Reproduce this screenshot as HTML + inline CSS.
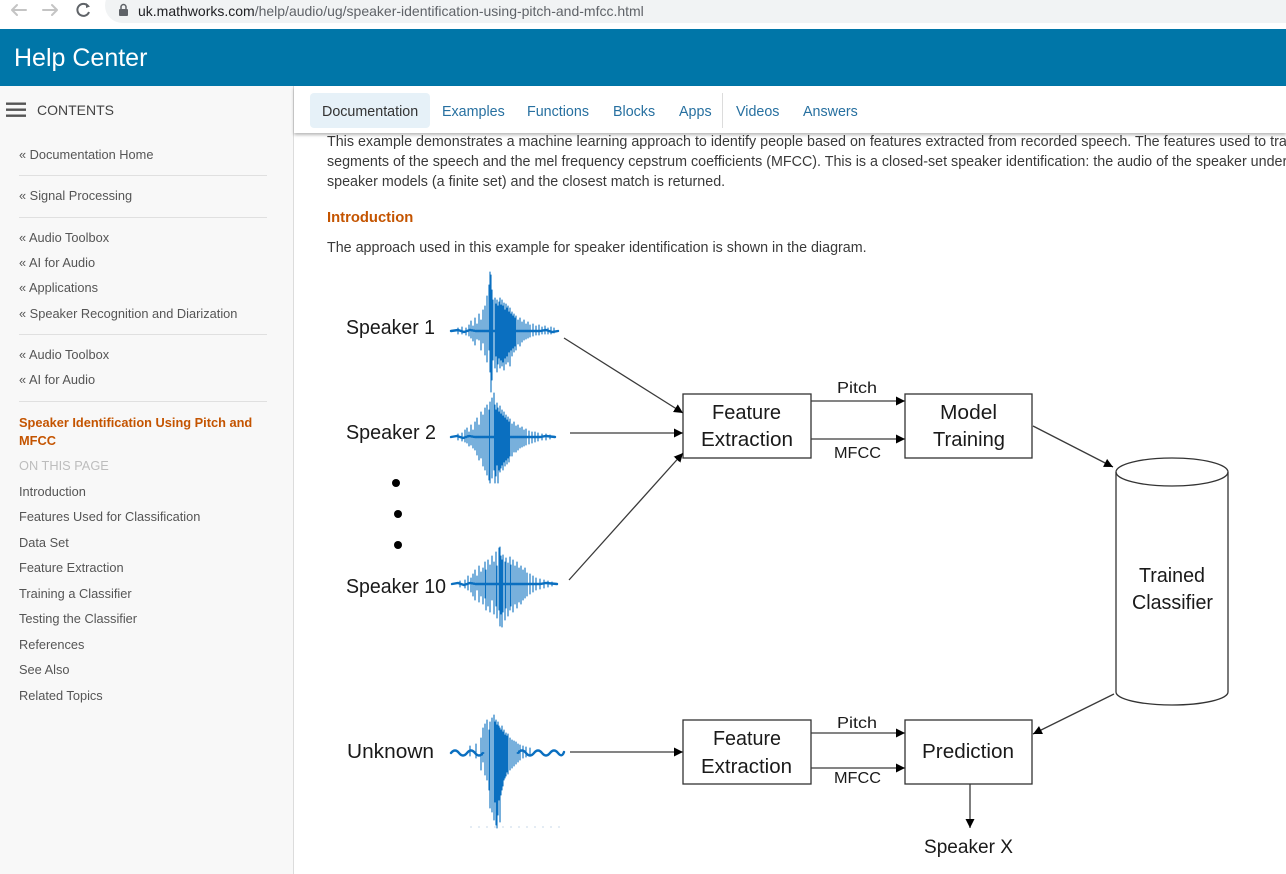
<!DOCTYPE html>
<html><head><meta charset="utf-8">
<style>
*{margin:0;padding:0;box-sizing:border-box}
html,body{width:1286px;height:874px;overflow:hidden;background:#fff;font-family:"Liberation Sans",Arial,sans-serif}
.abs{position:absolute;white-space:nowrap}
#pill{position:absolute;left:105px;top:-12px;width:1200px;height:35px;background:#f1f3f4;border-radius:18px}
#hdr{position:absolute;left:0;top:29px;width:1286px;height:57px;background:#0076a8}
#side{position:absolute;left:0;top:86px;width:294px;height:788px;background:#f8f8f8;border-right:1px solid #dcdcdc}
.sl{position:absolute;left:19px;font-size:12.8px;color:#555;line-height:16px;white-space:nowrap;margin-top:1px}
.sep{position:absolute;left:19px;width:248px;height:1px;background:#e0e0e0}
#tabs{position:absolute;left:294px;top:86px;width:992px;height:47px;background:#fff;box-shadow:0 2px 3px rgba(0,0,0,0.28);z-index:3}
.tab{position:absolute;top:17px;font-size:14.3px;color:#2770a0;line-height:18px;white-space:nowrap}
.txt{position:absolute;left:327px;font-size:14.3px;color:#3a3a3a;line-height:18px;white-space:nowrap;margin-top:1px}
</style></head><body>
<!-- browser bar -->
<div id="pill"></div>
<svg class="abs" style="left:0;top:0" width="140" height="24">
 <g stroke="#c4c4c4" stroke-width="2" fill="none" stroke-linecap="round">
  <path d="M12 10H26M12 10L17 5M12 10L17 15"/>
  <path d="M43 10H57M57 10L52 5M57 10L52 15"/>
 </g>
 <path d="M88 6A6 6 0 1 0 89 12" stroke="#5f6368" stroke-width="2" fill="none"/>
 <path d="M86 3L90 6.5L86 8z" fill="#5f6368"/>
 <rect x="119" y="9" width="9" height="7" rx="1" fill="#5f6368"/>
 <path d="M121 9V7a2.5 2.5 0 0 1 5 0V9" stroke="#5f6368" stroke-width="1.5" fill="none"/>
</svg>
<div class="abs" style="left:138px;top:3px;font-size:14px;line-height:16px;color:#5f6368"><span style="color:#202124">uk.mathworks.com</span>/help/audio/ug/speaker-identification-using-pitch-and-mfcc.html</div>
<!-- header -->
<div id="hdr"></div>
<div class="abs" style="left:14px;top:43px;font-size:25px;line-height:30px;color:#fff">Help Center</div>
<!-- sidebar -->
<div id="side"></div>
<svg class="abs" style="left:0;top:96px" width="30" height="30">
 <rect x="6" y="6.5" width="20" height="2.4" fill="#555"/>
 <rect x="6" y="12.5" width="20" height="2.4" fill="#555"/>
 <rect x="6" y="18.5" width="20" height="2.4" fill="#555"/>
</svg>
<div class="abs" style="left:37px;top:101px;font-size:14px;line-height:18px;color:#444">CONTENTS</div>
<div class="sl" style="top:146px">« Documentation Home</div>
<div class="sep" style="top:175px"></div>
<div class="sl" style="top:187px">« Signal Processing</div>
<div class="sep" style="top:217px"></div>
<div class="sl" style="top:229px">« Audio Toolbox</div>
<div class="sl" style="top:254px">« AI for Audio</div>
<div class="sl" style="top:279px">« Applications</div>
<div class="sl" style="top:305px">« Speaker Recognition and Diarization</div>
<div class="sep" style="top:334px"></div>
<div class="sl" style="top:346px">« Audio Toolbox</div>
<div class="sl" style="top:371px">« AI for Audio</div>
<div class="sep" style="top:401px"></div>
<div class="sl" style="top:414px;color:#c45400;font-weight:bold">Speaker Identification Using Pitch and</div>
<div class="sl" style="top:432px;color:#c45400;font-weight:bold">MFCC</div>
<div class="sl" style="top:457px;color:#bdbdbd">ON THIS PAGE</div>
<div class="sl" style="top:483px">Introduction</div>
<div class="sl" style="top:508px">Features Used for Classification</div>
<div class="sl" style="top:534px">Data Set</div>
<div class="sl" style="top:559px">Feature Extraction</div>
<div class="sl" style="top:585px">Training a Classifier</div>
<div class="sl" style="top:610px">Testing the Classifier</div>
<div class="sl" style="top:636px">References</div>
<div class="sl" style="top:661px">See Also</div>
<div class="sl" style="top:687px">Related Topics</div>
<!-- tabs -->
<div id="tabs">
 <div style="position:absolute;left:16px;top:7px;width:120px;height:35px;background:#e6f1f8;border-radius:4px"></div>
 <div class="tab" style="left:28px;color:#333">Documentation</div>
 <div class="tab" style="left:148px">Examples</div>
 <div class="tab" style="left:233px">Functions</div>
 <div class="tab" style="left:319px">Blocks</div>
 <div class="tab" style="left:385px">Apps</div>
 <div style="position:absolute;left:428px;top:7px;width:1px;height:35px;background:#dcdcdc"></div>
 <div class="tab" style="left:442px">Videos</div>
 <div class="tab" style="left:509px">Answers</div>
</div>
<!-- content text -->
<div class="txt" style="top:132px">This example demonstrates a machine learning approach to identify people based on features extracted from recorded speech. The features used to train</div>
<div class="txt" style="top:152px">segments of the speech and the mel frequency cepstrum coefficients (MFCC). This is a closed-set speaker identification: the audio of the speaker under</div>
<div class="txt" style="top:172px">speaker models (a finite set) and the closest match is returned.</div>
<div class="txt" style="top:208px;font-size:14.8px;font-weight:bold;color:#c45400">Introduction</div>
<div class="txt" style="top:238px">The approach used in this example for speaker identification is shown in the diagram.</div>
<!-- diagram -->
<svg class="abs" style="left:0;top:0" width="1286" height="874" viewBox="0 0 1286 874">
 <defs>
  <marker id="ah" viewBox="0 0 10 10" refX="10" refY="5" markerWidth="9" markerHeight="10" orient="auto" markerUnits="userSpaceOnUse"><path d="M0 0L10 5L0 10z" fill="#000"/></marker>
 </defs>
 <g font-family="Liberation Sans, Arial, sans-serif" fill="#1a1a1a" font-size="20">
  <text x="346" y="334" textLength="89" lengthAdjust="spacingAndGlyphs">Speaker 1</text>
  <text x="346" y="439" textLength="90" lengthAdjust="spacingAndGlyphs">Speaker 2</text>
  <text x="346" y="593" textLength="100" lengthAdjust="spacingAndGlyphs">Speaker 10</text>
  <text x="347" y="758" textLength="87" lengthAdjust="spacingAndGlyphs">Unknown</text>
  <text x="712" y="419" textLength="69" lengthAdjust="spacingAndGlyphs">Feature</text>
  <text x="701" y="446" textLength="92" lengthAdjust="spacingAndGlyphs">Extraction</text>
  <text x="940" y="419" textLength="57" lengthAdjust="spacingAndGlyphs">Model</text>
  <text x="933" y="446" textLength="72" lengthAdjust="spacingAndGlyphs">Training</text>
  <text x="1139" y="582" textLength="66" lengthAdjust="spacingAndGlyphs">Trained</text>
  <text x="1132" y="609" textLength="81" lengthAdjust="spacingAndGlyphs">Classifier</text>
  <text x="713" y="745" textLength="68" lengthAdjust="spacingAndGlyphs">Feature</text>
  <text x="701" y="773" textLength="91" lengthAdjust="spacingAndGlyphs">Extraction</text>
  <text x="922" y="758" textLength="92" lengthAdjust="spacingAndGlyphs">Prediction</text>
  <text x="924" y="853" textLength="89" font-size="19" lengthAdjust="spacingAndGlyphs">Speaker X</text>
  <text x="837" y="393" textLength="40" font-size="16" lengthAdjust="spacingAndGlyphs">Pitch</text>
  <text x="834" y="458" textLength="47" font-size="16" lengthAdjust="spacingAndGlyphs">MFCC</text>
  <text x="837" y="728" textLength="40" font-size="16" lengthAdjust="spacingAndGlyphs">Pitch</text>
  <text x="834" y="783" textLength="47" font-size="16" lengthAdjust="spacingAndGlyphs">MFCC</text>
 </g>
 <g fill="#000"><circle cx="396" cy="483" r="4"/><circle cx="398" cy="514" r="4"/><circle cx="398" cy="545" r="4"/></g>
 <!-- boxes -->
 <g fill="none" stroke="#333" stroke-width="1.3">
  <rect x="683" y="394" width="128" height="64"/>
  <rect x="905" y="394" width="127" height="64"/>
  <rect x="683" y="720" width="128" height="64"/>
  <rect x="905" y="720" width="127" height="64"/>
  <path d="M1116 472V692A56 13 0 0 0 1228 692V472"/>
  <ellipse cx="1172" cy="472" rx="56" ry="14"/>
 </g>
 <!-- connectors -->
 <g stroke="#3a3a3a" stroke-width="1.3" fill="none" marker-end="url(#ah)">
  <path d="M564 338L683 413"/>
  <path d="M570 433H683"/>
  <path d="M569 580L683 453"/>
  <path d="M811 401H905"/>
  <path d="M811 439H905"/>
  <path d="M1033 426L1113 467"/>
  <path d="M1114 694L1033 734"/>
  <path d="M570 752H683"/>
  <path d="M811 733H905"/>
  <path d="M811 768H905"/>
  <path d="M970 784V828"/>
 </g>
 <!-- waveforms -->
 <g stroke="#0a6fc0" fill="none" stroke-linecap="round">
  <path stroke-width="2.4" d="M451 331L458 330L464 332L470 330L476 331L540 331L546 330L552 332L558 331"/>
  <path stroke-width="1.1" d="M458 328V334M462 327V334M466 328V335M469 325V336M471 321V338M473 326V341M475 318V345M477 324V339M479 314V340M481 320V350M483 310V343M485 306V355M487 296V362M489 285V350M490 272V372M491 275V392M492 290V380M493 300V360M495 298V368M496 304V356M497 300V372M498 306V364M499 302V358M500 298V368M501 305V360M502 300V366M503 306V362M504 303V370M505 310V358M506 304V364M507 308V356M508 306V362M509 312V352M510 308V366M511 314V350M512 312V356M513 316V348M514 314V352M515 318V346M516 316V350M518 320V344M520 318V346M522 322V342M524 320V340M526 324V339M528 322V338M530 325V337M533 324V336M536 326V335M539 325V335M542 327V334M545 326V334M548 328V334M551 327V334M554 328V333"/>
  <path stroke-width="2.4" d="M451 437L457 436L463 438L469 436L475 437L540 437L546 436L555 437"/>
  <path stroke-width="1.1" d="M458 434V440M462 433V441M465 430V442M467 428V443M469 432V446M471 425V445M473 430V448M475 422V450M477 418V455M479 425V460M481 412V458M483 415V466M485 408V470M487 405V475M489 410V480M490 402V483M492 398V478M494 393V470M495 405V483M496 410V476M497 403V465M498 408V483M499 412V470M500 406V472M501 414V468M502 410V465M503 416V470M504 412V462M505 418V466M506 415V460M507 420V464M508 417V458M509 422V462M510 419V456M512 424V456M514 422V452M516 426V452M518 425V450M520 428V448M522 427V447M524 430V446M526 429V445M529 431V444M532 432V443M535 432V442M538 433V441M542 434V440M546 434V440M550 435V439"/>
  <path stroke-width="2.4" d="M452 584L458 583L464 585L470 583L476 584L540 584L546 583L557 584"/>
  <path stroke-width="1.1" d="M460 581V587M465 580V588M468 576V590M471 578V592M473 574V596M475 570V600M477 576V590M479 566V602M481 572V596M483 568V604M485 562V598M486 570V610M488 560V606M490 565V612M492 556V600M494 562V614M496 552V606M497 566V618M499 548V610M500 547V626M501 556V614M502 560V627M503 555V612M505 562V620M506 558V608M508 563V616M510 557V610M511 565V606M513 560V612M515 566V604M517 562V608M519 568V602M521 566V604M523 570V600M525 568V598M527 573V596M530 574V594M533 576V592M536 578V590M540 579V589M544 580V588M548 581V587M552 582V586"/>
  <path stroke-width="2.4" d="M451 753Q455 748 459 753T467 753T475 753T483 753M518 753Q522 748 526 753T534 753T542 753T550 753T558 753T564 752"/>
  <path stroke-width="1.1" d="M470 746V756M476 744V758M481 738V770M483 728V762M485 724V775M487 720V780M489 730V790M490 722V808M492 718V812M494 715V820M495 722V802M496 720V825M497 725V828M498 722V815M499 726V800M500 728V822M501 730V795M502 726V790M503 732V786M504 730V780M505 735V778M506 733V776M507 736V772M508 734V774M510 738V770M512 740V768M514 741V766M516 742V764M518 744V762M520 745V760M523 746V758M526 747V757M530 748V756"/>
 </g>
 <path d="M470 827H563" stroke="#c8d8e8" stroke-width="1" stroke-dasharray="2 6"/>
</svg>
</body></html>
